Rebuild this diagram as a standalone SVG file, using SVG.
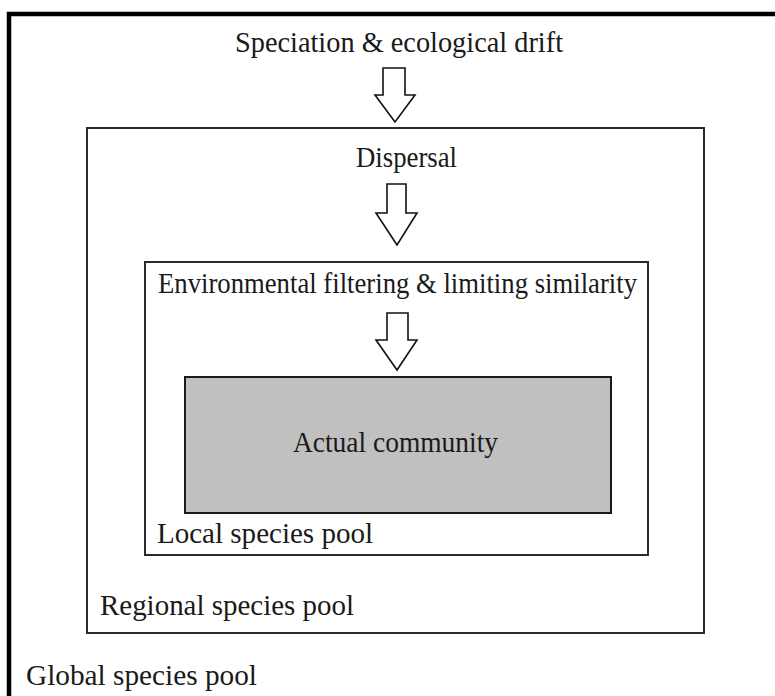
<svg xmlns="http://www.w3.org/2000/svg" width="775" height="696" viewBox="0 0 775 696">
<style>
.t{font-family:"Liberation Serif","Times New Roman",serif;font-size:30px;fill:#1a1a1a}
.box{fill:#fff;stroke:#2a2a2a;stroke-width:2}
.arrow{fill:#fff;stroke:#111;stroke-width:1.6;stroke-linejoin:miter}
</style>
<rect width="775" height="696" fill="#fff"/>
<g id="global">
<rect x="9" y="14" width="800" height="720" fill="#fff" stroke="#000" stroke-width="4.5"/>
<text class="t" x="26" y="685" textLength="231" lengthAdjust="spacingAndGlyphs">Global species pool</text>
</g>
<g id="regional">
<rect class="box" x="87" y="128" width="617" height="505"/>
<text class="t" x="100" y="615" textLength="254" lengthAdjust="spacingAndGlyphs">Regional species pool</text>
</g>
<g id="local">
<rect class="box" x="145" y="262" width="503" height="293"/>
<text class="t" x="157" y="543" textLength="216" lengthAdjust="spacingAndGlyphs">Local species pool</text>
</g>
<g id="actual">
<rect x="185" y="377" width="426" height="136" fill="#c0c0c0" stroke="#1a1a1a" stroke-width="2"/>
<text class="t" x="293" y="452" textLength="205" lengthAdjust="spacingAndGlyphs">Actual community</text>
</g>
<g id="connectors">
<text class="t" x="235" y="52" textLength="328" lengthAdjust="spacingAndGlyphs">Speciation &amp; ecological drift</text>
<path class="arrow" d="M383,68 H405 V95 H415 L395,122 L375,95 H383 Z"/>
<text class="t" x="356" y="167" textLength="101" lengthAdjust="spacingAndGlyphs">Dispersal</text>
<path class="arrow" d="M387,184 H406 V213 H417 L397,245 L376,213 H387 Z"/>
<text class="t" x="158" y="293" textLength="479" lengthAdjust="spacingAndGlyphs">Environmental filtering &amp; limiting similarity</text>
<path class="arrow" d="M387,313 H408 V340 H417 L397,370 L376,340 H387 Z"/>
</g>
</svg>
